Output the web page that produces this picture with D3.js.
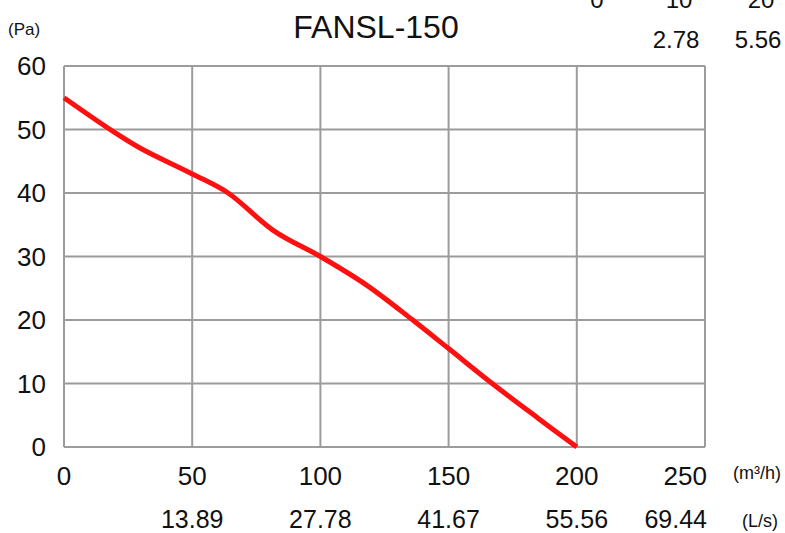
<html>
<head>
<script src="https://d3js.org/d3.v7.min.js"></script>
<style>
  body { margin: 0; background: #fff; }
  text { font-family: "Liberation Sans", Arial, sans-serif; fill: #111; }
</style>
</head>
<body>
<svg width="785" height="533" id="chart"></svg>
<script>
// flow (m3/h) vs static pressure (Pa)
var flow     = [0, 18, 30, 50, 64, 82, 100, 118, 136, 150, 167, 185, 200];
var pressure = [55, 50, 47, 43, 40, 34, 30, 25.5, 20, 15.5, 10, 4.5, 0];

var xTicks = [0, 50, 100, 150, 200, 250];
var yTicks = [0, 10, 20, 30, 40, 50, 60];
var lsLabels = ["", "13.89", "27.78", "41.67", "55.56", "69.44"];
// the cut-off scale at the top right corner
var topTicks = ["0", "10", "20"];
var topLs = ["", "2.78", "5.56"];

var pLeft = 64, pRight = 705, pTop = 66, pBottom = 447;

var x = d3.scaleLinear().domain([0, 250]).range([pLeft, pRight]);
var y = d3.scaleLinear().domain([0, 60]).range([pBottom, pTop]);

var svg = d3.select("#chart");

// grid
svg.append("g").selectAll("line")
  .data(xTicks).enter().append("line")
  .attr("x1", function(d) { return x(d); }).attr("x2", function(d) { return x(d); })
  .attr("y1", pTop).attr("y2", pBottom)
  .attr("stroke", "#9c9c9c").attr("stroke-width", 2);

svg.append("g").selectAll("line")
  .data(yTicks).enter().append("line")
  .attr("x1", pLeft).attr("x2", pRight)
  .attr("y1", function(d) { return y(d); }).attr("y2", function(d) { return y(d); })
  .attr("stroke", "#9c9c9c").attr("stroke-width", 2);

// y labels
svg.append("g").selectAll("text")
  .data(yTicks).enter().append("text")
  .attr("x", 46)
  .attr("y", function(d) { return y(d); })
  .attr("dy", "0.36em")
  .attr("text-anchor", "end")
  .style("font-size", "26px")
  .text(function(d) { return d; });

// x labels, m3/h row
svg.append("g").selectAll("text")
  .data(xTicks).enter().append("text")
  .attr("x", function(d, i) { return i == xTicks.length - 1 ? x(d) + 2 : x(d); })
  .attr("y", 485)
  .attr("text-anchor", function(d, i) { return i == xTicks.length - 1 ? "end" : "middle"; })
  .style("font-size", "26px")
  .text(function(d) { return d; });

// x labels, L/s row
svg.append("g").selectAll("text")
  .data(xTicks).enter().append("text")
  .attr("x", function(d, i) { return i == xTicks.length - 1 ? x(d) + 2 : x(d); })
  .attr("y", 528)
  .attr("text-anchor", function(d, i) { return i == xTicks.length - 1 ? "end" : "middle"; })
  .style("font-size", "25px")
  .text(function(d, i) { return lsLabels[i]; });

// units
svg.append("text").attr("x", 733).attr("y", 479).style("font-size", "18px").text("(m³/h)");
svg.append("text").attr("x", 742).attr("y", 527).style("font-size", "18px").text("(L/s)");
svg.append("text").attr("x", 8).attr("y", 35).style("font-size", "17px").text("(Pa)");

// title
svg.append("text")
  .attr("x", 376).attr("y", 38)
  .attr("text-anchor", "middle")
  .style("font-size", "32px")
  .text("FANSL-150");

// top right leftovers
var tx = d3.scaleLinear().domain([0, 2]).range([597, 761]);
svg.append("g").selectAll("text")
  .data(topTicks).enter().append("text")
  .attr("x", function(d, i) { return tx(i); })
  .attr("y", 8)
  .attr("text-anchor", "middle")
  .style("font-size", "24px")
  .text(function(d) { return d; });
svg.append("g").selectAll("text")
  .data(topLs).enter().append("text")
  .attr("x", function(d, i) { return tx(i) - 3; })
  .attr("y", 48)
  .attr("text-anchor", "middle")
  .style("font-size", "24px")
  .text(function(d) { return d; });

// curve
var line = d3.line()
  .x(function(d, i) { return x(flow[i]); })
  .y(function(d) { return y(d); })
  .curve(d3.curveCatmullRom);

svg.append("path")
  .datum(pressure)
  .attr("d", line)
  .attr("fill", "none")
  .attr("stroke", "#ff1010")
  .attr("stroke-width", 5);
</script>
</body>
</html>
